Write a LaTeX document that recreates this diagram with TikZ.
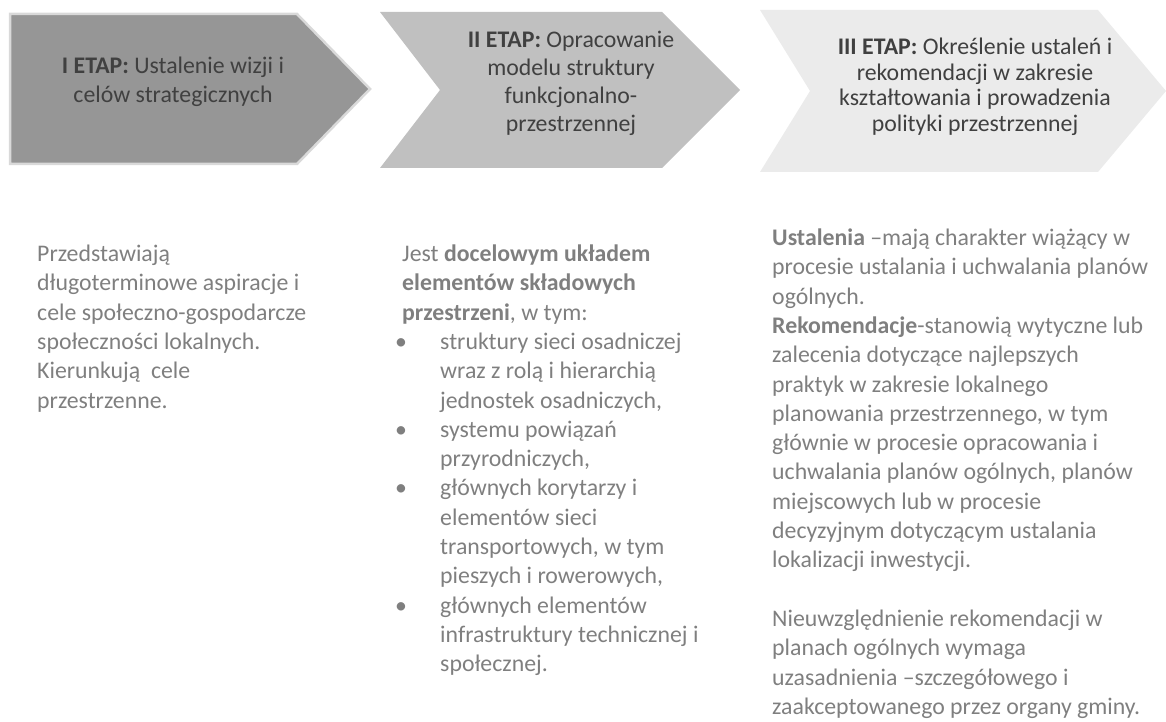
\documentclass[tikz,border=0pt]{standalone}
\usepackage{fontspec}
\setmainfont{Carlito}
\usepackage{xcolor}
\usepackage{tikz}

\definecolor{stepone}{HTML}{969696}
\definecolor{steptwo}{HTML}{C0C0C0}
\definecolor{stepthree}{HTML}{EBEBEB}
\definecolor{headtext}{HTML}{404040}
\definecolor{bodytext}{HTML}{7F7F7F}

\newcommand{\itembul}{\makebox[45pt][l]{\textbullet}}
\newcommand{\itemgap}{\hspace*{45pt}}

\begin{document}
\begin{tikzpicture}[x=1pt,y=-1pt,inner sep=0pt]
        % base = baseline of the last line
        \tikzstyle{head}=[align=center,text=headtext,anchor=base,
            font=\fontsize{23.8}{28.3}\selectfont]
        \tikzstyle{body}=[align=left,text=bodytext,anchor=base west,
            font=\fontsize{23.8}{29.3}\selectfont]

        \useasboundingbox (0,0) rectangle (1166,722);

        % chevrons
        \fill[stepone,draw=black!15,line width=2.5pt] (10,14) -- (297,14) -- (370,89) -- (297,164) -- (10,164) -- cycle;
        \fill[steptwo] (380,12) -- (662,12) -- (740,90) -- (662,168) -- (380,168) -- (440,90) -- cycle;
        \fill[stepthree] (760,10) -- (1098,10) -- (1166,91) -- (1098,172) -- (760,172) -- (810,91) -- cycle;

        \node[head] (etapI) at (173,102.3) {\textbf{I ETAP:} Ustalenie wizji i\\celów strategicznych};
        \node[head] (etapII) at (571,132) {\textbf{II ETAP:} Opracowanie\\modelu struktury\\funkcjonalno-\\przestrzennej};
        \node[head,font=\fontsize{23.8}{25.5}\selectfont] (etapIII) at (975,131.5) {\textbf{III ETAP:} Określenie ustaleń i\\rekomendacji w zakresie\\kształtowania i prowadzenia\\polityki przestrzennej};

        % descriptions
        \node[body] (opisI) at (37,408) {Przedstawiają\\
            długoterminowe aspiracje i\\
            cele społeczno-gospodarcze\\
            społeczności lokalnych.\\
            Kierunkują\ \ cele\\
            przestrzenne.};
        \node[body] (opisII) at (395,671.7) {\hspace*{7pt}Jest \textbf{docelowym układem}\\
            \hspace*{7pt}\textbf{elementów składowych}\\
            \hspace*{7pt}\textbf{przestrzeni}, w tym:\\
            \itembul struktury sieci osadniczej\\
            \itemgap wraz z rolą i hierarchią\\
            \itemgap jednostek osadniczych,\\
            \itembul systemu powiązań\\
            \itemgap przyrodniczych,\\
            \itembul głównych korytarzy i\\
            \itemgap elementów sieci\\
            \itemgap transportowych, w tym\\
            \itemgap pieszych i rowerowych,\\
            \itembul głównych elementów\\
            \itemgap infrastruktury technicznej i\\
            \itemgap społecznej.};
        \node[body] (opisIII) at (772,714.3) {\textbf{Ustalenia} –mają charakter wiążący w\\
            procesie ustalania i uchwalania planów\\
            ogólnych.\\
            \textbf{Rekomendacje}-stanowią wytyczne lub\\
            zalecenia dotyczące najlepszych\\
            praktyk w zakresie lokalnego\\
            planowania przestrzennego, w tym\\
            głównie w procesie opracowania i\\
            uchwalania planów ogólnych, planów\\
            miejscowych lub w procesie\\
            decyzyjnym dotyczącym ustalania\\
            lokalizacji inwestycji.\\[29.3pt]
            Nieuwzględnienie rekomendacji w\\
            planach ogólnych wymaga\\
            uzasadnienia –szczegółowego i\\
            zaakceptowanego przez organy gminy.};
    \end{tikzpicture}
\end{document}
